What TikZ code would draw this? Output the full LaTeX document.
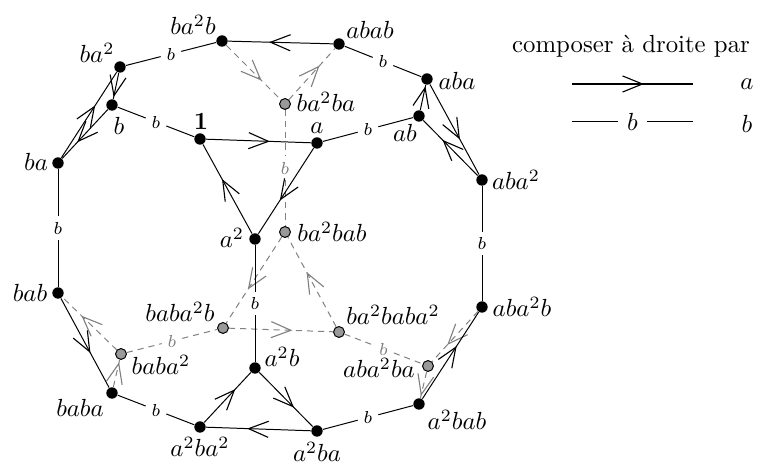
\documentclass[tikz,border=0pt]{standalone}
\usetikzlibrary{decorations.markings}
\begin{document}
\begin{tikzpicture}[x=0.4037pt,y=-0.4037pt,line width=0.4pt,
  v/.style={circle,fill=black,inner sep=0pt,minimum size=4.6pt},
  hv/.style={circle,draw=black,fill=black!40,line width=0.4pt,inner sep=0pt,minimum size=4.4pt},
  lab/.style={anchor=base,inner sep=0pt},
  barb/.style={postaction=decorate,decoration={markings,
     mark=at position 0.5 with {\draw[solid,line width=0.45pt,line join=miter] (-4pt,3.25pt) -- (4pt,0pt) -- (-4pt,-3.25pt);}}},
  hid/.style={gray,dash pattern=on 2.5pt off 2pt},
  blab/.style={font=\scriptsize,inner sep=2.2pt}]
\newcommand\bedge[4][]{%
  \path (#2) -- node[blab,#1] (#4) {$b$} (#3);
  \draw[#1] (#2) -- (#4) -- (#3);}
\useasboundingbox (0,0) rectangle (760,476);

% visible vertices
\node[v] (one)   at (200,139) {};
\node[v] (a)     at (317,143) {};
\node[v] (aa)    at (255,239) {};
\node[v] (b)     at (112,105) {};
\node[v] (baa)   at (120,67)  {};
\node[v] (ba)    at (58,163)  {};
\node[v] (baab)  at (222,41)  {};
\node[v] (abab)  at (339,44)  {};
\node[v] (aba)   at (427,79)  {};
\node[v] (ab)    at (419,116) {};
\node[v] (abaa)  at (482,180) {};
\node[v] (abaab) at (482,307) {};
\node[v] (aabab) at (419,404) {};
\node[v] (aaba)  at (317,431) {};
\node[v] (aabaa) at (200,427) {};
\node[v] (baba)  at (112,393) {};
\node[v] (bab)   at (58,293)  {};
\node[v] (aab)   at (255,368) {};
% hidden vertices
\node[hv] (baaba)    at (285,104) {};
\node[hv] (baabab)   at (285,232) {};
\node[hv] (babaab)   at (223,328) {};
\node[hv] (babaa)    at (121,354) {};
\node[hv] (baababaa) at (339,332) {};
\node[hv] (abaaba)   at (428,366) {};

% hidden edges
\draw[hid,barb] (baab) -- (baaba);
\draw[hid,barb] (baaba) -- (abab);
\draw[hid,barb] (baabab) -- (babaab);
\draw[hid,barb] (babaab) -- (baababaa);
\draw[hid,barb] (baababaa) -- (baabab);
\draw[hid,barb] (baba) -- (babaa);
\draw[hid,barb] (babaa) -- (bab);
\draw[hid,barb] (abaab) -- (abaaba);
\draw[hid,barb] (abaaba) -- (aabab);
\bedge[hid]{baaba}{baabab}{h1}
\bedge[hid]{babaa}{babaab}{h2}
\bedge[hid]{baababaa}{abaaba}{h3}

% visible edges: right multiplication by a
\draw[barb] (one) -- (a);
\draw[barb] (a) -- (aa);
\draw[barb] (aa) -- (one);
\draw[barb] (b) -- (ba);
\draw[barb] (ba) -- (baa);
\draw[barb] (baa) -- (b);
\draw[barb] (ab) -- (aba);
\draw[barb] (aba) -- (abaa);
\draw[barb] (abaa) -- (ab);
\draw[barb] (aab) -- (aaba);
\draw[barb] (aaba) -- (aabaa);
\draw[barb] (aabaa) -- (aab);
\draw[barb] (abab) -- (baab);
\draw[barb] (bab) -- (baba);
\draw[barb] (aabab) -- (abaab);
% visible edges: right multiplication by b
\bedge{one}{b}{e1}
\bedge{a}{ab}{e2}
\bedge{baa}{baab}{e3}
\bedge{abab}{aba}{e4}
\bedge{ba}{bab}{e5}
\bedge{abaa}{abaab}{e6}
\bedge{baba}{aabaa}{e7}
\bedge{aaba}{aabab}{e8}
\bedge{aa}{aab}{e9}

% vertex names
\node[lab] (t1)  at (201,130) {$\mathbf{1}$};
\node[lab] (t2)  at (317,134) {$a$};
\node[lab] (t3)  at (232,248) {$a^2$};
\node[lab] (t4)  at (119,135) {$b$};
\node[lab] (t5)  at (97,63)   {$ba^2$};
\node[lab] (t6)  at (36,171)  {$ba$};
\node[lab] (t7)  at (193,35)  {$ba^2b$};
\node[lab] (t8)  at (370,39)  {$abab$};
\node[lab] (t9)  at (457,90)  {$aba$};
\node[lab] (t10) at (405,142) {$ab$};
\node[lab] (t11) at (516,190) {$aba^2$};
\node[lab] (t12) at (522,317) {$aba^2b$};
\node[lab] (t13) at (457,430) {$a^2bab$};
\node[lab] (t14) at (317,462) {$a^2ba$};
\node[lab] (t15) at (200,457) {$a^2ba^2$};
\node[lab] (t16) at (80,417)  {$baba$};
\node[lab] (t17) at (30,302)  {$bab$};
\node[lab] (t18) at (282,367) {$a^2b$};
\node[lab] (t19) at (326,112) {$ba^2ba$};
\node[lab] (t20) at (332,242) {$ba^2bab$};
\node[lab] (t21) at (180,322) {$baba^2b$};
\node[lab] (t22) at (161,375) {$baba^2$};
\node[lab] (t23) at (393,325) {$ba^2baba^2$};
\node[lab] (t24) at (379,378) {$aba^2ba$};

% key
\node[lab] (title) at (631,53) {composer à droite par};
\coordinate (ka1) at (572,84);
\coordinate (ka2) at (693,84);
\draw[line width=0.8pt,barb] (ka1) -- (ka2);
\node[lab] (ka) at (747,90) {$a$};
\coordinate (kb1) at (572,122);
\coordinate (kb2) at (693,122);
\path (kb1) -- node[inner sep=3.5pt] (kbm) {$b$} (kb2);
\draw (kb1) -- (kbm) -- (kb2);
\node[lab] (kb) at (747,133) {$b$};
\end{tikzpicture}
\end{document}
